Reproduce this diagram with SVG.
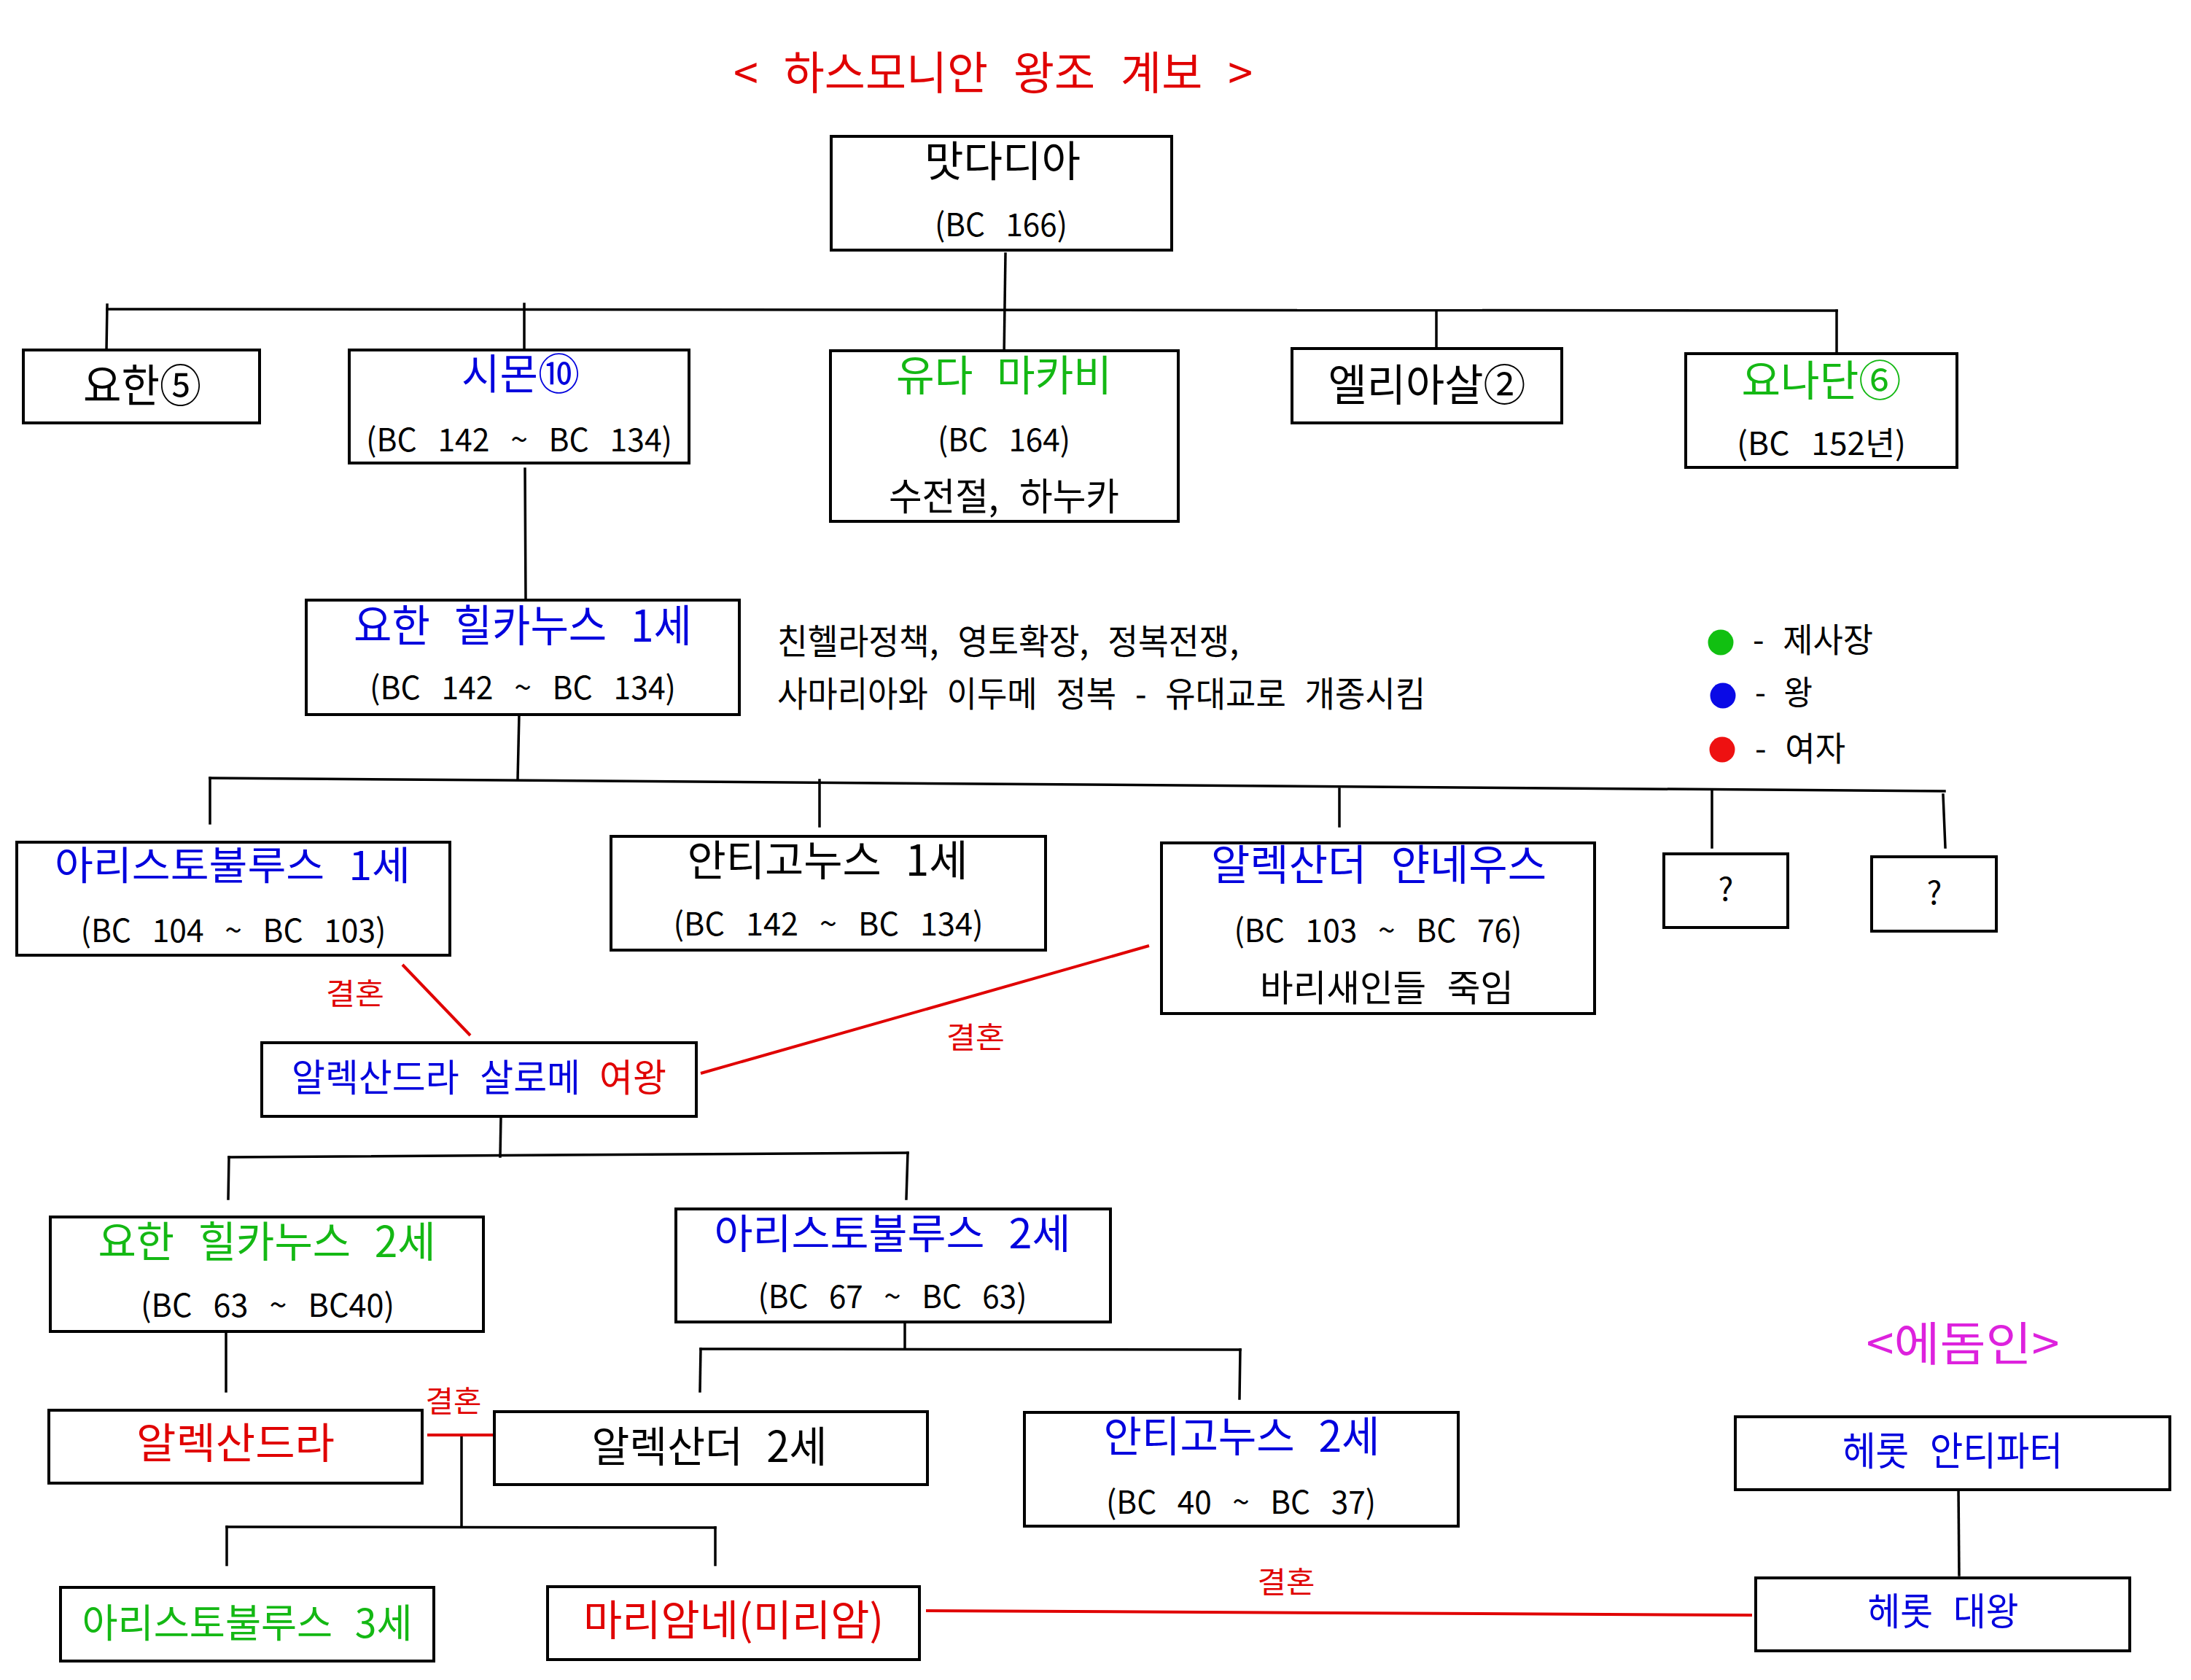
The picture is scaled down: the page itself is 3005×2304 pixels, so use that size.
<svg xmlns="http://www.w3.org/2000/svg" width="3005" height="2304" viewBox="0 0 3005 2304">
<style>
.box{fill:#fff;stroke:#000;stroke-width:4}
.ln{stroke:#000;stroke-width:3.5;fill:none;stroke-linecap:square}
.rl{stroke:#e00000;stroke-width:4;fill:none}
text{font-family:"Noto Sans CJK KR","Noto Sans",sans-serif;text-anchor:middle;word-spacing:0.35em}
.k{fill:#000}
.b{fill:#0000dd}
.g{fill:#14b814}
.r{fill:#e00000}
.m{fill:#dd22dd}
.n{font-size:58px}
.d{font-size:44px;word-spacing:0.45em}
.s{font-size:40px}
</style>
<rect width="3005" height="2304" fill="#fff"/>
<text id="title" x="1362" y="123" font-size="62" class="r" textLength="712" lengthAdjust="spacingAndGlyphs">&lt; 하스모니안 왕조 계보 &gt;</text>

<g id="connectors">
<line class="ln" x1="1379" y1="348" x2="1377" y2="491"/>
<line class="ln" x1="147" y1="424" x2="2519" y2="426"/>
<line class="ln" x1="147" y1="418" x2="146" y2="480"/>
<line class="ln" x1="719" y1="417" x2="719" y2="480"/>
<line class="ln" x1="1970" y1="426" x2="1970" y2="480"/>
<line class="ln" x1="2519" y1="426" x2="2519" y2="485"/>
<line class="ln" x1="720" y1="643" x2="721" y2="823"/>
<line class="ln" x1="712" y1="980" x2="710" y2="1069"/>
<line class="ln" x1="288" y1="1067" x2="2667" y2="1085"/>
<line class="ln" x1="288" y1="1067" x2="288" y2="1129"/>
<line class="ln" x1="1124" y1="1070" x2="1124" y2="1133"/>
<line class="ln" x1="1837" y1="1082" x2="1837" y2="1133"/>
<line class="ln" x1="2348" y1="1085" x2="2348" y2="1162"/>
<line class="ln" x1="2665" y1="1090" x2="2668" y2="1162"/>
<line class="ln" x1="687" y1="1531" x2="686" y2="1586"/>
<line class="ln" x1="314" y1="1587" x2="1245" y2="1581"/>
<line class="ln" x1="314" y1="1587" x2="313" y2="1644"/>
<line class="ln" x1="1245" y1="1581" x2="1243" y2="1644"/>
<line class="ln" x1="1241" y1="1805" x2="1241" y2="1850"/>
<line class="ln" x1="961" y1="1850" x2="1701" y2="1851"/>
<line class="ln" x1="961" y1="1850" x2="960" y2="1908"/>
<line class="ln" x1="1701" y1="1851" x2="1700" y2="1918"/>
<line class="ln" x1="310" y1="1812" x2="310" y2="1908"/>
<line class="ln" x1="633" y1="1968" x2="633" y2="2094"/>
<line class="ln" x1="311" y1="2094" x2="981" y2="2095"/>
<line class="ln" x1="311" y1="2094" x2="311" y2="2146"/>
<line class="ln" x1="981" y1="2095" x2="981" y2="2146"/>
<line class="ln" x1="2686" y1="2040" x2="2687" y2="2160"/>
<line class="rl" x1="552" y1="1323" x2="645" y2="1420"/>
<line class="rl" x1="961" y1="1472" x2="1576" y2="1297"/>
<line class="rl" x1="586" y1="1968" x2="684" y2="1968"/>
<line class="rl" x1="1270" y1="2209" x2="2403" y2="2215"/>
<text class="r s" x="487" y="1377" textLength="80" lengthAdjust="spacingAndGlyphs">결혼</text>
<text class="r s" x="1338" y="1437" textLength="80" lengthAdjust="spacingAndGlyphs">결혼</text>
<text class="r s" x="622" y="1936" textLength="77" lengthAdjust="spacingAndGlyphs">결혼</text>
<text class="r s" x="1764" y="2184" textLength="79" lengthAdjust="spacingAndGlyphs">결혼</text>
</g>

<g id="mattathias">
<rect class="box" x="1140" y="187" width="467" height="156"/>
<text class="k n" x="1375" y="242" textLength="214" lengthAdjust="spacingAndGlyphs">맛다디아</text>
<text class="k d" x="1373" y="324" textLength="182" lengthAdjust="spacingAndGlyphs">(BC 166)</text>
</g>
<g id="john">
<rect class="box" x="32" y="480" width="324" height="100"/>
<text class="k" font-size="62" x="195" y="552" textLength="162" lengthAdjust="spacingAndGlyphs">요한⑤</text>
</g>
<g id="simon">
<rect class="box" x="479" y="480" width="466" height="155"/>
<text class="b n" x="714" y="534" textLength="162" lengthAdjust="spacingAndGlyphs">시몬⑩</text>
<text class="k d" x="712" y="619" textLength="420" lengthAdjust="spacingAndGlyphs">(BC 142 ~ BC 134)</text>
</g>
<g id="judas">
<rect class="box" x="1139" y="481" width="477" height="234"/>
<text class="g n" x="1377" y="536" textLength="296" lengthAdjust="spacingAndGlyphs">유다 마카비</text>
<text class="k d" x="1377" y="619" textLength="182" lengthAdjust="spacingAndGlyphs">(BC 164)</text>
<text class="k" font-size="52" x="1377" y="700" textLength="316" lengthAdjust="spacingAndGlyphs">수전절, 하누카</text>
</g>
<g id="eleazar">
<rect class="box" x="1772" y="478" width="370" height="102"/>
<text class="k" font-size="60" x="1957" y="550" textLength="271" lengthAdjust="spacingAndGlyphs">엘리아살②</text>
</g>
<g id="jonathan">
<rect class="box" x="2312" y="485" width="372" height="156"/>
<text class="g n" x="2498" y="543" textLength="219" lengthAdjust="spacingAndGlyphs">요나단⑥</text>
<text class="k d" x="2498" y="624" textLength="232" lengthAdjust="spacingAndGlyphs">(BC 152년)</text>
</g>
<g id="hyrcanus1">
<rect class="box" x="420" y="823" width="594" height="157"/>
<text class="b" font-size="60" x="717" y="880" textLength="464" lengthAdjust="spacingAndGlyphs">요한 힐카누스 1세</text>
<text class="k d" x="717" y="959" textLength="420" lengthAdjust="spacingAndGlyphs">(BC 142 ~ BC 134)</text>
</g>
<g id="note">
<text class="k" font-size="48" x="1066" y="897" style="text-anchor:start" textLength="633" lengthAdjust="spacingAndGlyphs">친헬라정책, 영토확장, 정복전쟁,</text>
<text class="k" font-size="48" x="1066" y="969" style="text-anchor:start" textLength="889" lengthAdjust="spacingAndGlyphs">사마리아와 이두메 정복 - 유대교로 개종시킴</text>
</g>
<g id="legend">
<circle cx="2360" cy="881" r="17.5" fill="#11c011"/>
<circle cx="2363" cy="954" r="17.5" fill="#0a0ae6"/>
<circle cx="2362" cy="1028" r="17.5" fill="#ee1111"/>
<text class="k" font-size="46" x="2404" y="894" style="text-anchor:start" textLength="165" lengthAdjust="spacingAndGlyphs">- 제사장</text>
<text class="k" font-size="46" x="2407" y="966" style="text-anchor:start" textLength="79" lengthAdjust="spacingAndGlyphs">- 왕</text>
<text class="k" font-size="46" x="2407" y="1043" style="text-anchor:start" textLength="124" lengthAdjust="spacingAndGlyphs">- 여자</text>
</g>
<g id="aristobulus1">
<rect class="box" x="23" y="1155" width="594" height="155"/>
<text class="b" font-size="54" x="319" y="1207" textLength="488" lengthAdjust="spacingAndGlyphs">아리스토불루스 1세</text>
<text class="k d" x="320" y="1292" textLength="419" lengthAdjust="spacingAndGlyphs">(BC 104 ~ BC 103)</text>
</g>
<g id="antigonus1">
<rect class="box" x="838" y="1147" width="596" height="156"/>
<text class="k n" x="1135" y="1201" textLength="385" lengthAdjust="spacingAndGlyphs">안티고누스 1세</text>
<text class="k d" x="1136" y="1283" textLength="425" lengthAdjust="spacingAndGlyphs">(BC 142 ~ BC 134)</text>
</g>
<g id="jannaeus">
<rect class="box" x="1593" y="1156" width="594" height="234"/>
<text class="b n" x="1891" y="1207" textLength="460" lengthAdjust="spacingAndGlyphs">알렉산더 얀네우스</text>
<text class="k d" x="1890" y="1292" textLength="395" lengthAdjust="spacingAndGlyphs">(BC 103 ~ BC 76)</text>
<text class="k" font-size="50" x="1902" y="1373" textLength="348" lengthAdjust="spacingAndGlyphs">바리새인들 죽임</text>
</g>
<g id="unknown1">
<rect class="box" x="2282" y="1171" width="170" height="101"/>
<text class="k d" x="2367" y="1235">?</text>
</g>
<g id="unknown2">
<rect class="box" x="2567" y="1175" width="171" height="102"/>
<text class="k d" x="2653" y="1240">?</text>
</g>
<g id="salome">
<rect class="box" x="359" y="1430" width="596" height="101"/>
<text class="b" font-size="52" x="400" y="1497" style="text-anchor:start" textLength="396" lengthAdjust="spacingAndGlyphs">알렉산드라 살로메</text>
<text class="r" font-size="52" x="822" y="1497" style="text-anchor:start" textLength="92" lengthAdjust="spacingAndGlyphs">여왕</text>
</g>
<g id="hyrcanus2">
<rect class="box" x="69" y="1669" width="594" height="157"/>
<text class="g n" x="366" y="1724" textLength="463" lengthAdjust="spacingAndGlyphs">요한 힐카누스 2세</text>
<text class="k d" x="367" y="1806" textLength="348" lengthAdjust="spacingAndGlyphs">(BC 63 ~ BC40)</text>
</g>
<g id="aristobulus2">
<rect class="box" x="927" y="1658" width="596" height="155"/>
<text class="b" font-size="56" x="1224" y="1712" textLength="489" lengthAdjust="spacingAndGlyphs">아리스토불루스 2세</text>
<text class="k d" x="1224" y="1794" textLength="369" lengthAdjust="spacingAndGlyphs">(BC 67 ~ BC 63)</text>
</g>
<g id="alexandra">
<rect class="box" x="67" y="1934" width="512" height="100"/>
<text class="r n" x="323" y="2000" textLength="272" lengthAdjust="spacingAndGlyphs">알렉산드라</text>
</g>
<g id="alexander2">
<rect class="box" x="678" y="1936" width="594" height="100"/>
<text class="k n" x="973" y="2005" textLength="323" lengthAdjust="spacingAndGlyphs">알렉산더 2세</text>
</g>
<g id="antigonus2">
<rect class="box" x="1405" y="1937" width="595" height="156"/>
<text class="b n" x="1703" y="1991" textLength="379" lengthAdjust="spacingAndGlyphs">안티고누스 2세</text>
<text class="k d" x="1702" y="2076" textLength="370" lengthAdjust="spacingAndGlyphs">(BC 40 ~ BC 37)</text>
</g>
<g id="aristobulus3">
<rect class="box" x="83" y="2177" width="512" height="101"/>
<text class="g" font-size="54" x="339" y="2246" textLength="453" lengthAdjust="spacingAndGlyphs">아리스토불루스 3세</text>
</g>
<g id="mariamne">
<rect class="box" x="751" y="2176" width="510" height="100"/>
<text class="r n" x="1006" y="2243" textLength="412" lengthAdjust="spacingAndGlyphs">마리암네(미리암)</text>
</g>
<text id="edomite" class="m" font-size="64" x="2692" y="1866" textLength="265" lengthAdjust="spacingAndGlyphs">&lt;에돔인&gt;</text>
<g id="antipater">
<rect class="box" x="2380" y="1943" width="596" height="100"/>
<text class="b" font-size="54" x="2678" y="2010" textLength="302" lengthAdjust="spacingAndGlyphs">헤롯 안티파터</text>
</g>
<g id="herod">
<rect class="box" x="2408" y="2164" width="513" height="100"/>
<text class="b" font-size="52" x="2665" y="2229" textLength="207" lengthAdjust="spacingAndGlyphs">헤롯 대왕</text>
</g>
</svg>
